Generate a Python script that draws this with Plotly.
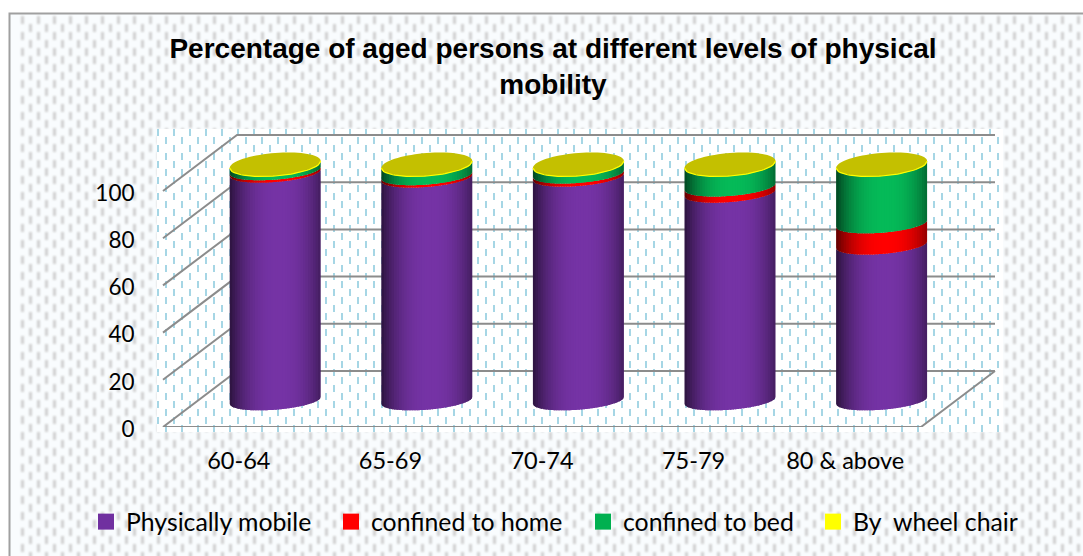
import base64
import numpy as np
import plotly.graph_objects as go

# ---------- data ----------
categories = ["60-64", "65-69", "70-74", "75-79", "80 & above"]
physically_mobile = [96.5, 94.4, 94.8, 88.0, 66.0]
confined_to_home = [1.0, 1.0, 1.3, 2.6, 9.0]
confined_to_bed = [2.2, 4.3, 3.6, 9.1, 24.7]
by_wheel_chair = [0.3, 0.3, 0.3, 0.3, 0.3]
series_names = ["Physically mobile", "confined to home", "confined to bed", "By  wheel chair"]
series_values = [physically_mobile, confined_to_home, confined_to_bed, by_wheel_chair]
series_colors = ["#7533A5", "#FF0000", "#05BA58", "#FFFF00"]
legend_colors = ["#7030A0", "#FF0000", "#00B050", "#FFFF00"]
value_ticks = [0, 20, 40, 60, 80, 100]

# ---------- page geometry (pixels) ----------
W, H = 1083, 556
LEFT, BOTTOM = 160, 427
PX_PER_CAT, PX_PER_VAL = 151.6, 2.36
X0_PX = 238.8
x_range = [(LEFT - X0_PX) / PX_PER_CAT, (W - X0_PX) / PX_PER_CAT]
y_range = [0, BOTTOM / PX_PER_VAL]

# 3-D look: oblique depth expressed in axis units
DEPTH_X = 74 / PX_PER_CAT
DEPTH_Y = 56 / PX_PER_VAL
CYL_DX = 36.4 / PX_PER_CAT
CYL_DY = 26.5 / PX_PER_VAL
RADIUS = 45.5 / PX_PER_CAT
SIDE_B = 9.2 / PX_PER_VAL      # curve of the bands on the cylinder's side
CAP_B = 11.5 / PX_PER_VAL      # curve of the top cap
ELL_S = 3.5 / PX_PER_VAL
N_SLICES = 36


def shade(color, f):
    c = [int(color[i:i + 2], 16) for i in (1, 3, 5)]
    return "#%02x%02x%02x" % tuple(int(round(v * f)) for v in c)


def factor(u):
    return 1 - 0.52 * abs(u - 0.08) ** 2.4


def arc(u, b=SIDE_B):
    return -b * np.sqrt(np.clip(1 - u * u, 0, 1)) + ELL_S * u


# ---------- background picture (paper texture only) ----------
def dashes(x0, y0, x1, y1, ox, oy, w, h, color, extra=""):
    out = []
    for j, y in enumerate(range(y0, y1, 8)):
        off = 8 if j % 2 else 0
        for x in range(x0 + off, x1, 16):
            out.append(f'<rect x="{x + ox}" y="{y + oy}" width="{w}" height="{h}" fill="{color}"/>')
    return f'<g {extra}>' + "".join(out) + "</g>"


svg = (
    f'<svg xmlns="http://www.w3.org/2000/svg" width="{W}" height="{H}" viewBox="0 0 {W} {H}">'
    '<defs><filter id="b" x="-5%" y="-5%" width="110%" height="110%"><feGaussianBlur stdDeviation="0.9"/></filter></defs>'
    f'<rect width="{W}" height="{H}" fill="#ffffff"/>'
    f'<rect x="9" y="13" width="{W}" height="{H}" fill="#f9fcfe"/>'
    + dashes(13, 16, W, H, 8, 0, 3, 8, "#cfcfcf", 'filter="url(#b)"')
    + '<rect x="157" y="129" width="846" height="303" fill="#ffffff"/>'
    + dashes(157, 129, 1000, 430, 0, 0, 2, 7, "#a6d6e5")
    + f'<path d="M1083 13.5H9.5V{H}" fill="none" stroke="#a0a0a0" stroke-width="2"/>'
    + "</svg>"
)
bg_uri = "data:image/svg+xml;base64," + base64.b64encode(svg.encode()).decode()

fig = go.Figure()

# ---------- walls, floor, gridlines ----------
xl, xr = -0.5, 4.5
grid_x, grid_y = [], []
for v in value_ticks:
    grid_x += [xl, xl + DEPTH_X, xr + DEPTH_X, None]
    grid_y += [v, v + DEPTH_Y, v + DEPTH_Y, None]
grid_x += [xl, xr, xr + DEPTH_X, None]
grid_y += [0, 0, DEPTH_Y, None]
fig.add_trace(go.Scatter(x=grid_x, y=grid_y, mode="lines", cliponaxis=False,
                         line=dict(color="#8c8c8c", width=2),
                         hoverinfo="skip", showlegend=False))

# ---------- cylinders: stacked segments, sliced for the horizontal shading ----------
edges = np.linspace(-1, 1, N_SLICES + 1)
step = edges[1] - edges[0]
cum = np.zeros(len(categories))
for vals, color in zip(series_values, series_colors):
    vals = np.array(vals, dtype=float)
    lo, hi = cum.copy(), cum + vals
    for k in range(N_SLICES):
        # each slice overlaps the next one so that no seam shows between them
        us = np.linspace(edges[k], min(edges[k] + 1.7 * step, 1.0), 6)
        xs, ys = [], []
        for i in range(len(categories)):
            cx = i + CYL_DX
            px = cx + us * RADIUS
            yl = lo[i] + CYL_DY + arc(us)
            yh = hi[i] + CYL_DY + arc(us)
            xs += list(px) + list(px[::-1]) + [px[0], None]
            ys += list(yl) + list(yh[::-1]) + [yl[0], None]
        c = shade(color, factor(edges[k] + step / 2))
        fig.add_trace(go.Scatter(x=xs, y=ys, mode="none", fill="toself", fillcolor=c,
                                 hoverinfo="skip", showlegend=False))
    cum = hi

# ---------- top caps ----------
theta = np.linspace(0, 2 * np.pi, 73)
cap_x, cap_y, rim_x, rim_y = [], [], [], []
for i in range(len(categories)):
    u = np.cos(theta)
    cap_x += list(i + CYL_DX + u * RADIUS) + [None]
    cap_y += list(cum[i] + CYL_DY + CAP_B * np.sin(theta) + ELL_S * u) + [None]
    ur = np.linspace(-1, 1, 41)
    rim_x += list(i + CYL_DX + ur * RADIUS) + [None]
    rim_y += list(cum[i] + CYL_DY + arc(ur, CAP_B)) + [None]
fig.add_trace(go.Scatter(x=cap_x, y=cap_y, mode="none", fill="toself", fillcolor="#C4C000",
                         hoverinfo="skip", showlegend=False))
fig.add_trace(go.Scatter(x=rim_x, y=rim_y, mode="lines",
                         line=dict(color="#FFFF00", width=1.2), hoverinfo="skip", showlegend=False))

# ---------- legend entries ----------
legend_widths = [200, 207, 185, 170]
for name, color, lw in zip(series_names, legend_colors, legend_widths):
    fig.add_trace(go.Scatter(x=[None], y=[None], mode="markers", name=name, legendwidth=lw,
                             marker=dict(symbol="square", size=16, color=color)))

FONT = "Lato, Carlito, Calibri, sans-serif"
fig.update_layout(
    width=W, height=H, autosize=False,
    margin=dict(l=LEFT, r=0, t=0, b=H - BOTTOM, pad=0),
    paper_bgcolor="rgba(0,0,0,0)", plot_bgcolor="rgba(0,0,0,0)",
    images=[dict(source=bg_uri, xref="paper", yref="paper", layer="below",
                 x=-LEFT / (W - LEFT), y=1.0,
                 sizex=W / (W - LEFT), sizey=H / BOTTOM,
                 xanchor="left", yanchor="top", sizing="stretch")],
    title=dict(text="<b>Percentage of aged persons at different levels of physical<br>mobility</b>",
               x=553 / W, xref="container", xanchor="center",
               y=1 - 58 / H, yref="container", yanchor="middle",
               font=dict(family="Liberation Sans, Arial, sans-serif", size=28, color="#000000")),
    xaxis=dict(range=x_range, tickmode="array", tickvals=list(range(len(categories))),
               ticktext=categories, showgrid=False, zeroline=False, showline=False,
               ticks="outside", ticklen=13, tickcolor="rgba(0,0,0,0)",
               tickfont=dict(family=FONT, size=23.5, color="#000000"), fixedrange=True),
    yaxis=dict(range=y_range, tickmode="array", tickvals=value_ticks, showgrid=False,
               zeroline=False, showline=False, ticks="outside", ticklen=20,
               tickcolor="rgba(0,0,0,0)", ticklabelshift=2,
               tickfont=dict(family=FONT, size=22.5, color="#000000"), fixedrange=True),
    showlegend=True,
    legend=dict(orientation="h", x=(86 - LEFT) / (W - LEFT), xanchor="left",
                y=-(522 - BOTTOM) / BOTTOM, yanchor="middle",
                bgcolor="rgba(0,0,0,0)", font=dict(family=FONT, size=24.8, color="#000000"),
                itemclick=False, itemdoubleclick=False),
)
fig.write_html("out.html", config={"displayModeBar": False},
               post_script="document.body.style.margin='0';")
